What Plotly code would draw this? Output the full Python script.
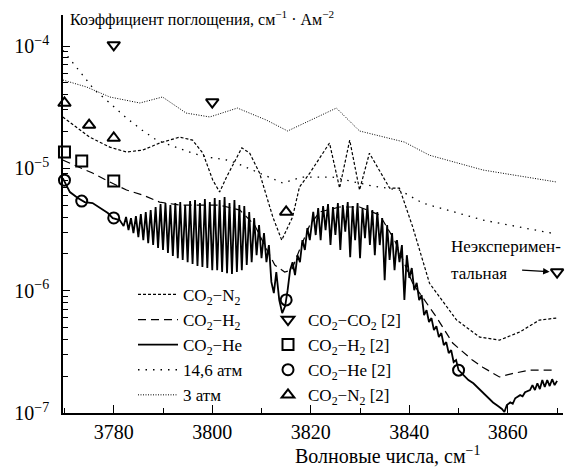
import plotly.graph_objects as go

# ---------------- data (wavenumber, cm^-1 ; absorption coefficient) ----------------
atm3_x = [3769.7, 3774.5, 3779.2, 3785.3, 3789.9, 3794.7, 3799.5, 3805.1, 3811.0, 3815.3,
          3825.2, 3829.9, 3839.0, 3844.1, 3855.0, 3869.9]
atm3_y = [5.27e-5, 4.62e-5, 3.83e-5, 3.42e-5, 3.83e-5, 2.83e-5, 2.63e-5, 3.11e-5, 2.48e-5, 2.02e-5,
          3.11e-5, 2.02e-5, 1.64e-5, 1.28e-5, 9.68e-6, 7.73e-6]

atm146_x = [3769.7, 3773.1, 3776.1, 3779.2, 3782.6, 3785.7, 3788.7, 3791.4, 3796.0, 3798.9, 3802.9,
            3805.0, 3809.6, 3814.3, 3818.3, 3824.4, 3832.5, 3838.0, 3842.7, 3854.9, 3869.9]
atm146_y = [9.2e-5, 6.13e-5, 4.37e-5, 3.42e-5, 2.58e-5, 2.06e-5, 1.70e-5, 1.55e-5, 1.33e-5, 1.24e-5, 1.17e-5,
            1.10e-5, 9.15e-6, 7.58e-6, 8.49e-6, 8.49e-6, 7.17e-6, 6.65e-6, 5.2e-6, 3.78e-6, 2.9e-6]

n2_x = [3769.65, 3775.1, 3779.2, 3782.6, 3785.9, 3789.3, 3793.4, 3796.0, 3798.1, 3800.1, 3801.5, 3802.9,
        3806.0, 3807.6, 3809.6, 3812.3, 3814.1, 3816.3, 3817.7, 3819.8, 3823.8, 3825.85, 3827.9, 3829.9,
        3831.9, 3836.0, 3838.0, 3840.7, 3844.1, 3849.6, 3854.3, 3858.3, 3862.4, 3866.4, 3869.9]
n2_y = [2.63e-5, 1.80e-5, 1.49e-5, 1.36e-5, 1.41e-5, 1.61e-5, 1.80e-5, 1.70e-5, 1.33e-5, 8.02e-6, 6.40e-6, 8.49e-6,
        1.47e-5, 1.33e-5, 9.15e-6, 4.0e-6, 2.59e-6, 4.0e-6, 7.03e-6, 9.15e-6, 1.61e-5, 6.90e-6, 1.70e-5, 6.65e-6,
        1.33e-5, 6.90e-6, 6.90e-6, 3.31e-6, 1.15e-6, 5.75e-7, 4.17e-7, 3.94e-7, 4.59e-7, 5.75e-7, 5.97e-7]

h2_x = [3769.65, 3775.7, 3779.2, 3782.6, 3785.9, 3789.3, 3793.4, 3797.5, 3801.5, 3805.6, 3808.6, 3810.6,
        3812.7, 3814.7, 3816.1, 3817.7, 3819.8, 3821.8, 3825.85, 3829.9, 3834.0, 3837.0, 3840.7, 3845.5,
        3848.8, 3852.8, 3854.9, 3858.3, 3860.9, 3864.4, 3869.9]
h2_y = [1.17e-5, 9.15e-6, 7.73e-6, 6.65e-6, 6.05e-6, 5.30e-6, 5.01e-6, 5.01e-6, 5.0e-6, 4.56e-6, 3.44e-6, 2.36e-6,
        1.62e-6, 1.42e-6, 1.47e-6, 2.15e-6, 3.44e-6, 4.40e-6, 4.83e-6, 4.83e-6, 4.15e-6, 2.59e-6, 1.15e-6, 6.08e-7,
        3.73e-7, 2.71e-7, 2.37e-7, 1.97e-7, 2.10e-7, 2.24e-7, 2.24e-7]

# CO2-He (solid, with rotational structure)
he_x_start = [3769.65, 3771.1, 3772.7, 3774.1, 3775.7, 3777.8, 3778.8, 3779.8, 3781.2]
he_y_start = [8.33e-6, 6.40e-6, 5.72e-6, 5.30e-6, 5.20e-6, 4.56e-6, 4.31e-6, 3.92e-6, 3.78e-6]

he_x_a = [3782.0, 3782.5, 3783.0, 3783.5, 3784.0, 3784.5, 3785.0, 3785.5, 3786.0, 3786.5,
          3787.0, 3787.5, 3788.0, 3788.5, 3789.0, 3789.5, 3790.0, 3790.5, 3791.0, 3791.5,
          3792.0, 3792.5, 3793.0, 3793.5, 3794.0, 3794.5, 3795.0, 3795.5, 3796.0, 3796.5,
          3797.0, 3797.5, 3798.0, 3798.5, 3799.0, 3799.5, 3800.0, 3800.5, 3801.0, 3801.5,
          3802.0, 3802.5, 3803.0, 3803.5, 3804.0, 3804.5, 3805.0, 3805.5, 3806.0, 3806.5,
          3807.0, 3807.5, 3808.0, 3808.5, 3809.0, 3809.5, 3810.0, 3810.5, 3811.0, 3811.5]
he_y_a = [3.37e-6, 4.0e-6, 3.13e-6, 3.92e-6, 2.96e-6, 4.07e-6, 2.74e-6, 4.23e-6, 2.59e-6, 4.40e-6,
          2.45e-6, 4.56e-6, 2.36e-6, 4.83e-6, 2.23e-6, 5.1e-6, 2.15e-6, 5.2e-6, 2.03e-6, 5.01e-6,
          1.92e-6, 5.2e-6, 1.84e-6, 5.30e-6, 1.78e-6, 5.01e-6, 1.71e-6, 5.41e-6, 1.65e-6, 5.51e-6,
          1.59e-6, 5.2e-6, 1.56e-6, 5.61e-6, 1.53e-6, 5.3e-6, 1.47e-6, 5.72e-6, 1.47e-6, 5.51e-6,
          1.42e-6, 5.83e-6, 1.39e-6, 5.2e-6, 1.37e-6, 5.51e-6, 1.42e-6, 5.01e-6, 1.47e-6, 4.92e-6,
          1.62e-6, 4.40e-6, 1.71e-6, 3.92e-6, 1.95e-6, 3.44e-6, 1.84e-6, 2.96e-6, 1.71e-6, 2.36e-6]

he_x_dip = [3812.0, 3812.5, 3813.0, 3813.6, 3814.2, 3814.8, 3815.3, 3815.8, 3816.3, 3816.8,
            3817.3, 3817.8, 3818.3, 3818.8, 3819.3, 3819.8]
he_y_dip = [1.18e-6, 9.56e-7, 1.42e-6, 8.38e-7, 6.56e-7, 7.48e-7, 1.01e-6, 1.47e-6, 1.71e-6, 1.34e-6,
            1.95e-6, 1.71e-6, 2.59e-6, 2.15e-6, 3.25e-6, 2.59e-6]

he_x_b = [3820.5, 3821.0, 3821.5, 3822.0, 3822.5, 3823.0, 3823.5, 3824.0, 3824.5, 3825.0,
          3825.5, 3826.0, 3826.5, 3827.0, 3827.5, 3828.0, 3828.5, 3829.0, 3829.5, 3830.0,
          3830.5, 3831.0, 3831.5, 3832.0, 3832.5, 3833.0, 3833.5, 3834.0, 3834.5, 3835.0,
          3835.5, 3836.0, 3836.5, 3837.0, 3837.5, 3838.0, 3838.5, 3839.0, 3839.5, 3840.0,
          3840.5, 3841.0, 3841.5, 3842.0, 3842.5, 3843.0, 3843.5, 3844.0, 3844.5, 3845.0,
          3845.5, 3846.0, 3846.5, 3847.0, 3847.5, 3848.0, 3848.5, 3849.0, 3849.5]
he_y_b = [4.40e-6, 2.85e-6, 4.74e-6, 2.59e-6, 4.92e-6, 3.13e-6, 5.1e-6, 2.36e-6, 4.83e-6, 2.85e-6,
          5.2e-6, 2.15e-6, 5.01e-6, 3.04e-6, 5.30e-6, 1.88e-6, 4.92e-6, 2.59e-6, 5.2e-6, 1.84e-6,
          4.74e-6, 2.69e-6, 5.01e-6, 2.36e-6, 4.56e-6, 1.95e-6, 4.40e-6, 2.36e-6, 3.92e-6, 1.22e-6,
          3.44e-6, 1.78e-6, 2.96e-6, 1.47e-6, 2.59e-6, 1.71e-6, 2.36e-6, 8.38e-7, 1.95e-6, 1.27e-6,
          1.53e-6, 1.01e-6, 1.16e-6, 8.38e-7, 9.2e-7, 6.32e-7, 6.94e-7, 5.54e-7, 5.97e-7, 4.76e-7,
          5.13e-7, 4.17e-7, 4.50e-7, 3.59e-7, 3.80e-7, 3.09e-7, 3.27e-7, 2.61e-7, 2.71e-7]

he_x_end = [3850.0, 3851.0, 3852.0, 3853.0, 3854.0, 3855.0, 3856.0, 3857.0, 3858.0, 3858.8,
            3859.3, 3859.8, 3860.5, 3861.0, 3861.5, 3862.5, 3863.0, 3863.5, 3864.5, 3865.0,
            3865.5, 3866.0, 3866.5, 3867.0, 3867.5, 3868.0, 3868.5, 3869.0, 3869.5, 3870.0]
he_y_end = [2.24e-7, 2.04e-7, 1.86e-7, 1.75e-7, 1.60e-7, 1.46e-7, 1.32e-7, 1.22e-7, 1.14e-7, 1.08e-7,
            1.02e-7, 1.16e-7, 1.22e-7, 1.19e-7, 1.32e-7, 1.40e-7, 1.37e-7, 1.48e-7, 1.54e-7, 1.69e-7,
            1.54e-7, 1.75e-7, 1.57e-7, 1.86e-7, 1.63e-7, 1.86e-7, 1.66e-7, 1.89e-7, 1.69e-7, 1.83e-7]

he_x = he_x_start + he_x_a + he_x_dip + he_x_b + he_x_end
he_y = he_y_start + he_y_a + he_y_dip + he_y_b + he_y_end

# reference data [2]
cc_ref_x = [3780, 3800, 3870]
cc_ref_y = [1.02e-4, 3.48e-5, 1.42e-6]
h2_ref_x = [3770, 3773.5, 3780]
h2_ref_y = [1.36e-5, 1.15e-5, 7.87e-6]
he_ref_x = [3770, 3773.5, 3780, 3815, 3850]
he_ref_y = [8.0e-6, 5.4e-6, 3.93e-6, 8.4e-7, 2.24e-7]
n2_ref_x = [3770, 3775, 3780, 3815]
n2_ref_y = [3.42e-5, 2.26e-5, 1.77e-5, 4.4e-6]

x_tick_vals = [3780, 3800, 3820, 3840, 3860]
x_tick_text = ["3780", "3800", "3820", "3840", "3860"]
y_tick_vals = [1e-7, 1e-6, 1e-5, 1e-4]
y_tick_text = ["10<sup>−7</sup>", "10<sup>−6</sup>", "10<sup>−5</sup>", "10<sup>−4</sup>"]

FONT = "Liberation Serif, 'Times New Roman', 'DejaVu Serif', serif"

fig = go.Figure()

line_specs = [
    ("CO<sub>2</sub>−N<sub>2</sub>", n2_x, n2_y, dict(color="black", width=1.2, dash="3px,2px")),
    ("CO<sub>2</sub>−H<sub>2</sub>", h2_x, h2_y, dict(color="black", width=1.2, dash="8px,5px")),
    ("CO<sub>2</sub>−He", he_x, he_y, dict(color="black", width=1.8)),
    ("14,6 атм", atm146_x, atm146_y, dict(color="black", width=1.3, dash="1.5px,6px")),
    ("3 атм", atm3_x, atm3_y, dict(color="black", width=1.0, dash="1px,1.5px")),
]
for name, xs, ys, ln in line_specs:
    fig.add_trace(go.Scatter(x=xs, y=ys, mode="lines", name=name, line=ln, legend="legend"))

marker_specs = [
    ("CO<sub>2</sub>−CO<sub>2</sub> [2]", cc_ref_x, cc_ref_y, "triangle-down-open"),
    ("CO<sub>2</sub>−H<sub>2</sub> [2]", h2_ref_x, h2_ref_y, "square-open"),
    ("CO<sub>2</sub>−He [2]", he_ref_x, he_ref_y, "circle-open"),
    ("CO<sub>2</sub>−N<sub>2</sub> [2]", n2_ref_x, n2_ref_y, "triangle-up-open"),
]
for name, xs, ys, sym in marker_specs:
    fig.add_trace(go.Scatter(x=xs, y=ys, mode="markers", name=name, legend="legend2",
                             cliponaxis=False,
                             marker=dict(symbol=sym, size=11, color="black",
                                         line=dict(color="black", width=2))))

fig.update_layout(
    width=576, height=471,
    margin=dict(l=55, r=21, t=7, b=66),
    paper_bgcolor="white", plot_bgcolor="white",
    font=dict(family=FONT, size=16, color="black"),
    showlegend=True,
    legend=dict(x=0.14, y=0.342, xanchor="left", yanchor="top", bgcolor="rgba(0,0,0,0)",
                font=dict(family=FONT, size=17, color="black"), itemwidth=40, tracegroupgap=0),
    legend2=dict(x=0.41, y=0.279, xanchor="left", yanchor="top", bgcolor="rgba(0,0,0,0)",
                 font=dict(family=FONT, size=17, color="black"), itemwidth=30, tracegroupgap=0),
    xaxis=dict(range=[3769.7, 3871.2], showgrid=False, zeroline=False,
               showline=True, linecolor="black", linewidth=1.5,
               tickmode="array", tickvals=x_tick_vals, ticktext=x_tick_text,
               ticks="inside", ticklen=8, tickwidth=1.3, tickcolor="black",
               tickfont=dict(family=FONT, size=20, color="black"),
               minor=dict(ticks="inside", ticklen=5, tickwidth=1.1, tickcolor="black",
                          dtick=10, tick0=3770, showgrid=False)),
    yaxis=dict(type="log", range=[-7, -3.7465], showgrid=False, zeroline=False,
               showline=True, linecolor="black", linewidth=1.5,
               tickmode="array", tickvals=y_tick_vals, ticktext=y_tick_text,
               ticks="inside", ticklen=7, tickwidth=1.3, tickcolor="black",
               ticklabelstandoff=8,
               tickfont=dict(family=FONT, size=20, color="black"),
               minor=dict(ticks="inside", ticklen=5, tickwidth=1.1, tickcolor="black",
                          dtick="D1", showgrid=False)),
)

fig.add_annotation(xref="paper", yref="paper", x=0.01, y=0.99, xanchor="left", yanchor="middle",
                   text="Коэффициент поглощения, см<sup>−1</sup> · Ам<sup>−2</sup>",
                   showarrow=False, font=dict(family=FONT, size=16, color="black"))
fig.add_annotation(xref="paper", yref="paper", x=(387 - 63) / 500, y=(413 - 455) / 398,
                   xanchor="center", yanchor="middle",
                   text="Волновые числа, см<sup>−1</sup>",
                   showarrow=False, font=dict(family=FONT, size=20, color="black"))
fig.add_annotation(xref="paper", yref="paper", x=(449 - 63) / 500, y=(413 - 246) / 398, xanchor="left",
                   yanchor="middle", text="Неэксперимен-", showarrow=False,
                   font=dict(family=FONT, size=17, color="black"))
fig.add_annotation(xref="paper", yref="paper", x=(449 - 63) / 500, y=(413 - 273) / 398, xanchor="left",
                   yanchor="middle", text="тальная", showarrow=False,
                   font=dict(family=FONT, size=17, color="black"))
fig.add_annotation(x=3869.9, y=-5.848, xref="x", yref="y", text="", showarrow=True,
                   ax=-36, ay=-2, arrowhead=2, arrowsize=1, arrowwidth=1.3,
                   arrowcolor="black", standoff=7)

fig.write_html("out.html")
